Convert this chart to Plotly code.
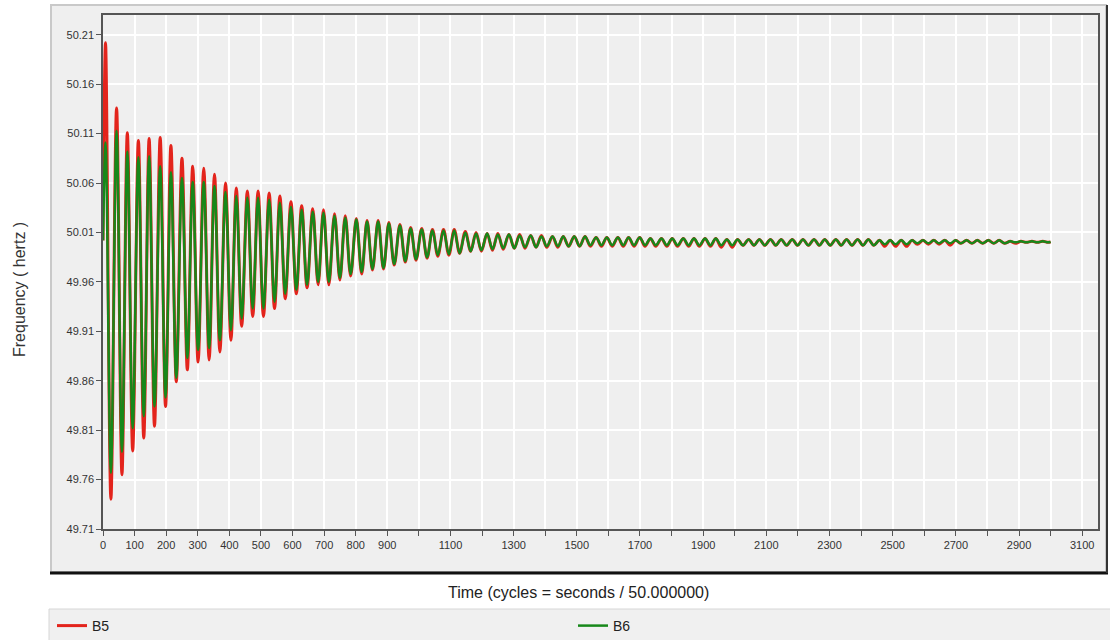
import plotly.graph_objects as go

# ---------------- data ----------------
peak_times = [8, 43, 77, 112, 146, 181, 215, 250, 284, 319, 353, 388, 422, 457, 491, 526,
              560, 595, 629, 664, 698, 733, 767, 802, 836, 871, 905, 940, 974, 1009, 1043,
              1078, 1112, 1147, 1181, 1216, 1250, 1285, 1319, 1354, 1388, 1423, 1457, 1492,
              1526, 1561, 1595, 1630, 1664, 1699, 1733, 1768, 1802, 1837, 1871, 1906, 1940,
              1975, 2009, 2044, 2078, 2113, 2147, 2182, 2216, 2251, 2285, 2320, 2354, 2389,
              2423, 2458, 2492, 2527, 2561, 2596, 2630, 2665, 2699, 2734, 2768, 2803, 2837,
              2872, 2906, 2941, 2975]
trough_times = [25, 60, 94, 129, 163, 198, 232, 267, 301, 336, 370, 405, 439, 474, 508, 543,
                577, 612, 646, 681, 715, 750, 784, 819, 853, 888, 922, 957, 991, 1026, 1060,
                1095, 1129, 1164, 1198, 1233, 1267, 1302, 1336, 1371, 1405, 1440, 1474, 1509,
                1543, 1578, 1612, 1647, 1681, 1716, 1750, 1785, 1819, 1854, 1888, 1923, 1957,
                1992, 2026, 2061, 2095, 2130, 2164, 2199, 2233, 2268, 2302, 2337, 2371, 2406,
                2440, 2475, 2509, 2544, 2578, 2613, 2647, 2682, 2716, 2751, 2785, 2820, 2854,
                2889, 2923, 2958, 2992]
start_time, end_time = 0, 3000
start_value, end_value = 50.002, 50.0005

b5_peaks = [50.202, 50.136, 50.111, 50.103, 50.105, 50.106, 50.098, 50.085, 50.077, 50.075,
            50.069, 50.060, 50.055, 50.052, 50.052, 50.050, 50.047, 50.041, 50.037, 50.034,
            50.033, 50.029, 50.027, 50.024, 50.022, 50.022, 50.020, 50.018, 50.015, 50.014,
            50.013, 50.013, 50.013, 50.011, 50.010, 50.009, 50.009, 50.008, 50.008, 50.007,
            50.007, 50.006, 50.006, 50.006, 50.006, 50.005, 50.005, 50.005, 50.005, 50.005,
            50.004, 50.004, 50.004, 50.004, 50.004, 50.004, 50.004, 50.003, 50.003, 50.003,
            50.003, 50.003, 50.003, 50.003, 50.003, 50.003, 50.003, 50.003, 50.003, 50.003,
            50.003, 50.002, 50.002, 50.002, 50.002, 50.002, 50.002, 50.002, 50.002, 50.002,
            50.002, 50.002, 50.002, 50.001, 50.001, 50.001, 50.001]
b5_troughs = [49.740, 49.765, 49.789, 49.802, 49.814, 49.834, 49.859, 49.871, 49.879, 49.881,
              49.889, 49.901, 49.915, 49.925, 49.925, 49.933, 49.943, 49.948, 49.954, 49.957,
              49.957, 49.962, 49.966, 49.968, 49.972, 49.973, 49.977, 49.980, 49.982, 49.984,
              49.986, 49.987, 49.989, 49.991, 49.991, 49.992, 49.993, 49.994, 49.994, 49.995,
              49.995, 49.995, 49.996, 49.996, 49.996, 49.996, 49.996, 49.996, 49.996, 49.996,
              49.996, 49.996, 49.996, 49.996, 49.996, 49.996, 49.995, 49.995, 49.997, 49.997,
              49.997, 49.997, 49.997, 49.997, 49.997, 49.997, 49.997, 49.997, 49.997, 49.997,
              49.997, 49.996, 49.996, 49.996, 49.998, 49.998, 49.998, 49.997, 49.999, 49.999,
              49.999, 49.999, 49.999, 49.999, 50.000, 50.000, 50.000]
b6_peaks = [50.101, 50.113, 50.092, 50.086, 50.087, 50.077, 50.071, 50.065, 50.061, 50.061,
            50.057, 50.051, 50.047, 50.045, 50.045, 50.043, 50.040, 50.036, 50.033, 50.031,
            50.030, 50.027, 50.025, 50.023, 50.021, 50.021, 50.019, 50.017, 50.014, 50.013,
            50.012, 50.012, 50.012, 50.010, 50.009, 50.009, 50.008, 50.008, 50.007, 50.007,
            50.006, 50.006, 50.006, 50.006, 50.006, 50.005, 50.005, 50.005, 50.005, 50.005,
            50.004, 50.004, 50.004, 50.004, 50.004, 50.004, 50.004, 50.003, 50.003, 50.003,
            50.003, 50.003, 50.003, 50.003, 50.003, 50.003, 50.003, 50.003, 50.003, 50.003,
            50.003, 50.002, 50.002, 50.002, 50.002, 50.002, 50.002, 50.002, 50.002, 50.002,
            50.002, 50.002, 50.002, 50.001, 50.001, 50.001, 50.001]
b6_troughs = [49.767, 49.788, 49.812, 49.824, 49.834, 49.843, 49.863, 49.883, 49.891, 49.893,
              49.901, 49.911, 49.923, 49.933, 49.933, 49.940, 49.948, 49.952, 49.957, 49.960,
              49.960, 49.964, 49.968, 49.970, 49.973, 49.974, 49.978, 49.981, 49.983, 49.985,
              49.987, 49.988, 49.989, 49.991, 49.992, 49.993, 49.994, 49.994, 49.995, 49.995,
              49.996, 49.996, 49.996, 49.996, 49.997, 49.997, 49.997, 49.997, 49.997, 49.997,
              49.997, 49.997, 49.997, 49.997, 49.997, 49.997, 49.997, 49.997, 49.997, 49.997,
              49.997, 49.997, 49.997, 49.997, 49.997, 49.997, 49.997, 49.997, 49.997, 49.997,
              49.997, 49.998, 49.998, 49.998, 49.999, 49.999, 49.999, 49.999, 49.999, 49.999,
              49.999, 49.999, 49.999, 50.000, 50.000, 50.000, 50.000]

x_tick_vals = [0, 100, 200, 300, 400, 500, 600, 700, 800, 900, 1000, 1100, 1200, 1300, 1400,
               1500, 1600, 1700, 1800, 1900, 2000, 2100, 2200, 2300, 2400, 2500, 2600, 2700,
               2800, 2900, 3000, 3100]
x_tick_text = ["0", "100", "200", "300", "400", "500", "600", "700", "800", "900", "", "1100",
               "", "1300", "", "1500", "", "1700", "", "1900", "", "2100", "", "2300", "",
               "2500", "", "2700", "", "2900", "", "3100"]
y_tick_vals = [49.71, 49.76, 49.81, 49.86, 49.91, 49.96, 50.01, 50.06, 50.11, 50.16, 50.21]
y_tick_text = ["49.71", "49.76", "49.81", "49.86", "49.91", "49.96", "50.01", "50.06",
               "50.11", "50.16", "50.21"]

series_names = ["B5", "B6"]
series_colors = ["#e3241c", "#17881a"]


def build(peaks, troughs):
    xs, ys = [start_time], [start_value]
    for pt, pv, tt, tv in zip(peak_times, peaks, trough_times, troughs):
        xs += [pt, tt]
        ys += [pv, tv]
    xs.append(end_time)
    ys.append(end_value)
    return xs, ys


fig = go.Figure()
for name, color, pk, tr, w in [(series_names[0], series_colors[0], b5_peaks, b5_troughs, 3.0),
                               (series_names[1], series_colors[1], b6_peaks, b6_troughs, 2.5)]:
    xs, ys = build(pk, tr)
    fig.add_trace(go.Scatter(x=xs, y=ys, mode="lines", name=name,
                             line=dict(color=color, width=w, shape="spline", smoothing=1.0)))

# pixel helpers for the frame decoration (plot area 103..1098 x 15..529)
W, H = 1110, 640
L, R, T, B = 103, 1098, 15, 529


def px(x):
    return (x - L) / (R - L)


def py(y):
    return (B - y) / (B - T)


shapes = [
    # outer panel
    dict(type="rect", xref="paper", yref="paper", x0=px(51), x1=px(1106), y0=py(5), y1=py(572),
         fillcolor="#efefef", line=dict(color="#c9c9c9", width=2), layer="below"),
    # dark shadow bottom / right
    dict(type="line", xref="paper", yref="paper", x0=px(50), x1=px(1108), y0=py(573), y1=py(573),
         line=dict(color="#111111", width=3), layer="below"),
    dict(type="line", xref="paper", yref="paper", x0=px(1107), x1=px(1107), y0=py(5), y1=py(573),
         line=dict(color="#333333", width=2), layer="below"),
    # legend bar
    dict(type="rect", xref="paper", yref="paper", x0=px(49), x1=px(1112), y0=py(609), y1=py(642),
         fillcolor="#f0f0f0", line=dict(color="#d6d6d6", width=1), layer="below"),
]

fig.update_layout(
    width=W, height=H,
    margin=dict(l=L, r=W - R, t=T, b=H - B, autoexpand=False),
    paper_bgcolor="white",
    plot_bgcolor="#efefef",
    shapes=shapes,
    showlegend=True,
    legend=dict(orientation="h", x=px(52), y=py(626), xanchor="left", yanchor="middle",
                bgcolor="rgba(0,0,0,0)", entrywidth=476, entrywidthmode="pixels",
                font=dict(family="Liberation Sans, Arial, sans-serif", size=14, color="#222")),
    annotations=[
        dict(text="Time (cycles = seconds / 50.000000)", xref="paper", yref="paper",
             x=px(578), y=py(592), showarrow=False, xanchor="center", yanchor="middle",
             font=dict(family="Liberation Sans, Arial, sans-serif", size=16, color="#222")),
        dict(text="Frequency ( hertz )", xref="paper", yref="paper", textangle=-90,
             x=px(19), y=py(290), showarrow=False, xanchor="center", yanchor="middle",
             font=dict(family="Liberation Sans, Arial, sans-serif", size=16, color="#333")),
    ],
    xaxis=dict(range=[0, 3150], tickvals=x_tick_vals, ticktext=x_tick_text,
               showgrid=True, gridcolor="white", gridwidth=1.5, zeroline=False,
               showline=True, linecolor="#555", linewidth=1.5, mirror=True,
               ticks="outside", ticklen=5, tickcolor="#555",
               tickfont=dict(family="Liberation Sans Narrow, Liberation Sans, Arial, sans-serif",
                             size=11, color="#333")),
    yaxis=dict(range=[49.71, 50.23], tickvals=y_tick_vals, ticktext=y_tick_text,
               showgrid=True, gridcolor="white", gridwidth=1.5, zeroline=False,
               showline=True, linecolor="#555", linewidth=1.5, mirror=True,
               ticks="outside", ticklen=5, tickcolor="#555",
               tickfont=dict(family="Liberation Sans Narrow, Liberation Sans, Arial, sans-serif",
                             size=11, color="#333")),
)

fig.write_html("out.html")
